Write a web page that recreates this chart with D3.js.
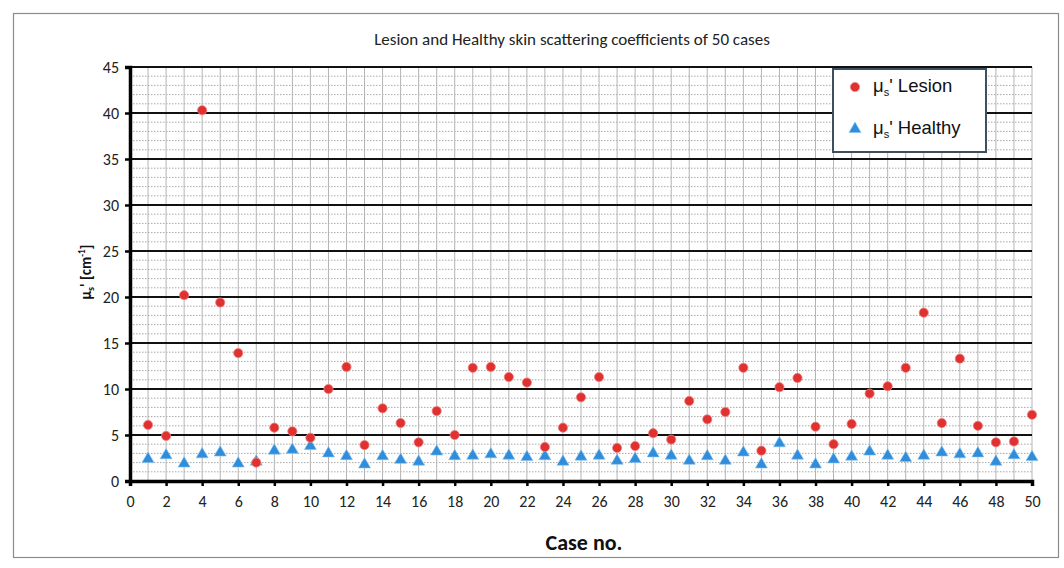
<!DOCTYPE html>
<html><head><meta charset="utf-8">
<script src="https://cdn.jsdelivr.net/npm/d3@7"></script>
<style>
body{margin:0;background:#fff;}
svg{display:block;font-family:Carlito,Lato,"Open Sans",sans-serif;}
</style></head>
<body><svg id="c" width="1064" height="568"></svg>
<script>
const cases = d3.range(1, 51);
const lesion = [6.1,4.9,20.2,40.3,19.4,13.9,2.0,5.8,5.4,4.7,
  10.0,12.4,3.9,7.9,6.3,4.2,7.6,5.0,12.3,12.4,
  11.3,10.7,3.7,5.8,9.1,11.3,3.6,3.8,5.2,4.5,
  8.7,6.7,7.5,12.3,3.3,10.2,11.2,5.9,4.0,6.2,
  9.5,10.3,12.3,18.3,6.3,13.3,6.0,4.2,4.3,7.2];
const healthy = [2.5,2.9,2.0,3.0,3.2,2.0,2.2,3.4,3.5,3.9,
  3.1,2.8,1.9,2.8,2.4,2.2,3.3,2.8,2.85,3.0,
  2.85,2.7,2.8,2.2,2.75,2.85,2.3,2.5,3.1,2.85,
  2.3,2.8,2.3,3.2,1.9,4.2,2.85,1.9,2.45,2.75,
  3.3,2.85,2.6,2.85,3.2,3.0,3.1,2.2,2.9,2.7];
const xTicks = d3.range(0, 51, 2);
const yTicks = d3.range(0, 46, 5);
const title = "Lesion and Healthy skin scattering coefficients of 50 cases";

const svg = d3.select("#c");
const L = 130, R = 1032, T = 67, B = 481;
const x = d3.scaleLinear().domain([0, 50]).range([L, R]);
const y = d3.scaleLinear().domain([0, 45]).range([B, T]);

// outer chart border
svg.append("rect").attr("x", 13.5).attr("y", 13.5).attr("width", 1045).attr("height", 544)
  .attr("fill", "#fff").attr("stroke", "#8c8c8c").attr("stroke-width", 1.2);

// title
svg.append("text").attr("x", 572).attr("y", 45).attr("text-anchor", "middle")
  .attr("font-size", 17).attr("fill", "#222").text(title);

const g = svg.append("g");
// minor horizontal dotted gridlines
g.selectAll("line.minor").data(d3.range(1, 45).filter(v => v % 5 !== 0)).join("line")
  .attr("x1", L).attr("x2", R).attr("y1", d => y(d)).attr("y2", d => y(d))
  .attr("stroke", "#a8a8a8").attr("stroke-width", 1).attr("stroke-dasharray", "1.5,1.5");
// vertical gridlines
g.selectAll("line.vg").data(d3.range(1, 51)).join("line")
  .attr("x1", d => x(d)).attr("x2", d => x(d)).attr("y1", T).attr("y2", B)
  .attr("stroke", "#b4b4b4").attr("stroke-width", 1);
// major horizontal gridlines
g.selectAll("line.major").data(yTicks.filter(v => v > 0)).join("line")
  .attr("x1", L).attr("x2", R).attr("y1", d => y(d)).attr("y2", d => y(d))
  .attr("stroke", "#111").attr("stroke-width", 2.2);

// y axis
const yAxis = svg.append("g").attr("transform", `translate(${L},0)`)
  .call(d3.axisLeft(y).tickValues(yTicks).tickSize(5).tickPadding(6));
yAxis.select(".domain").attr("stroke", "#000").attr("stroke-width", 3.5);
yAxis.selectAll(".tick line").attr("stroke", "#000").attr("stroke-width", 2.5);
yAxis.selectAll(".tick text").attr("font-size", 16).attr("fill", "#222")
  .attr("font-family", "Carlito,Lato,sans-serif");

// x axis
const xAxis = svg.append("g").attr("transform", `translate(0,${B})`)
  .call(d3.axisBottom(x).tickValues(xTicks).tickSize(5).tickPadding(10));
xAxis.select(".domain").attr("stroke", "#000").attr("stroke-width", 3.5);
xAxis.selectAll(".tick line").attr("stroke", "#000").attr("stroke-width", 2.5);
xAxis.selectAll(".tick text").attr("font-size", 16).attr("fill", "#222")
  .attr("font-family", "Carlito,Lato,sans-serif");

// axis titles
svg.append("text").attr("x", 584).attr("y", 550).attr("text-anchor", "middle")
  .attr("font-size", 22).attr("font-weight", "bold").attr("fill", "#111").text("Case no.");
const yl = svg.append("text").attr("transform", "translate(91,272) rotate(-90)")
  .attr("text-anchor", "middle").attr("font-size", 15).attr("font-weight", "bold").attr("fill", "#111");
yl.append("tspan").text("μ");
yl.append("tspan").attr("font-size", 10).attr("dy", 3).text("s");
yl.append("tspan").attr("dy", -3).text("' [cm");
yl.append("tspan").attr("font-size", 9).attr("dy", -6).text("-1");
yl.append("tspan").attr("dy", 6).text("]");

// markers
const tri = d3.symbol().type(d3.symbolTriangle).size(62);
svg.append("g").selectAll("path").data(cases).join("path")
  .attr("d", tri)
  .attr("transform", (d, i) => `translate(${x(d)},${y(healthy[i]) + 1})`)
  .attr("fill", "#2f8ddb").attr("stroke", "#7fc0ee").attr("stroke-width", 0.6);
svg.append("g").selectAll("circle").data(cases).join("circle")
  .attr("cx", d => x(d)).attr("cy", (d, i) => y(lesion[i])).attr("r", 4.6)
  .attr("fill", "#e03131").attr("stroke", "#f08080").attr("stroke-width", 0.8);

// legend
const lg = svg.append("g");
lg.append("rect").attr("x", 833).attr("y", 69).attr("width", 153).attr("height", 83)
  .attr("fill", "#fff").attr("stroke", "#3e5060").attr("stroke-width", 2);
lg.append("circle").attr("cx", 855).attr("cy", 87).attr("r", 4.6)
  .attr("fill", "#e03131").attr("stroke", "#f08080").attr("stroke-width", 0.8);
lg.append("path").attr("d", tri).attr("transform", "translate(855,129)")
  .attr("fill", "#2f8ddb").attr("stroke", "#7fc0ee").attr("stroke-width", 0.6);
function legText(yy, label) {
  const t = lg.append("text").attr("x", 873).attr("y", yy).attr("font-size", 18.5)
    .attr("font-family", "'Liberation Sans',Arial,sans-serif").attr("fill", "#111");
  t.append("tspan").text("μ");
  t.append("tspan").attr("font-size", 11).attr("dy", 4).text("s");
  t.append("tspan").attr("dy", -4).text("' " + label);
}
legText(92, "Lesion");
legText(134, "Healthy");
</script></body></html>
